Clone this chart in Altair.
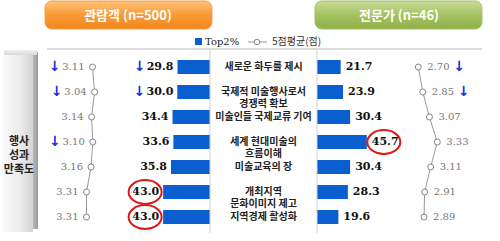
import altair as alt
import pandas as pd

categories = ["새로운 화두를 제시", "국제적 미술행사로서\n경쟁력 확보", "미술인들 국제교류 기여",
              "세계 현대미술의\n흐름이해", "미술교육의 장", "개최지역\n문화이미지 제고", "지역경제 활성화"]
visitor_avg = [3.11, 3.04, 3.14, 3.10, 3.16, 3.31, 3.31]
visitor_top2 = [29.8, 30.0, 34.4, 33.6, 35.8, 43.0, 43.0]
expert_top2 = [21.7, 23.9, 30.4, 45.7, 30.4, 28.3, 19.6]
expert_avg = [2.70, 2.85, 3.07, 3.33, 3.11, 2.91, 2.89]
visitor_avg_down = [1, 1, 0, 1, 0, 0, 0]
visitor_top2_down = [1, 1, 0, 0, 0, 0, 0]
expert_avg_down = [1, 1, 0, 0, 0, 0, 0]
visitor_top2_mark = [0, 0, 0, 0, 0, 1, 1]
expert_top2_mark = [0, 0, 0, 1, 0, 0, 0]

df = pd.DataFrame({
    "row": list(range(len(categories))),
    "cat": categories,
    "vavg": visitor_avg,
    "vtop": visitor_top2,
    "etop": expert_top2,
    "eavg": expert_avg,
    "vavg_dn": visitor_avg_down,
    "vtop_dn": visitor_top2_down,
    "eavg_dn": expert_avg_down,
    "vtop_mk": visitor_top2_mark,
    "etop_mk": expert_top2_mark,
})

KR = "Noto Sans CJK KR"
NUM = "DejaVu Serif"
BLUE = "#0B5ED0"
ARROW = "#1A2FE0"

yS = alt.Scale(domain=[0, 6], range=[62, 222], nice=False, zero=False)
lbar = alt.Scale(domain=[0, 100], range=[210, 101], nice=False)
rbar = alt.Scale(domain=[0, 100], range=[317, 426], nice=False)
lavg = alt.Scale(domain=[3.0, 3.4], range=[95.8, 83.8], nice=False, zero=False)
ravg = alt.Scale(domain=[2.7, 3.4], range=[418.3, 439.4], nice=False, zero=False)

Y = alt.Y("row:Q", scale=yS, axis=None)
base = alt.Chart(df)
one = alt.Chart(pd.DataFrame({"a": [0]}))


def grad(stops, vertical=True):
    return alt.LinearGradient(
        gradient="linear",
        stops=[alt.GradientStop(color=c, offset=o) for o, c in stops],
        x1=0, y1=0, x2=0 if vertical else 1, y2=1 if vertical else 0,
    )


# header boxes
hdr_v = one.mark_rect(cornerRadius=7, stroke="#F2A04C", strokeWidth=1,
                      color=grad([(0, "#FFC27A"), (0.5, "#FA9A35"), (1, "#F2861C")])).encode(
    x=alt.value(45), x2=alt.value(212), y=alt.value(1), y2=alt.value(29))
hdr_e = one.mark_rect(cornerRadius=7, stroke="#A3C065", strokeWidth=1,
                      color=grad([(0, "#C9DD98"), (0.5, "#A5C262"), (1, "#8FAF48")])).encode(
    x=alt.value(315), x2=alt.value(482), y=alt.value(1), y2=alt.value(29))
hdr_v_t = one.mark_text(text="관람객 (n=500)", font=KR, fontSize=13, fontWeight="bold",
                        color="white", align="center", baseline="middle").encode(
    x=alt.value(128), y=alt.value(16))
hdr_e_t = one.mark_text(text="전문가 (n=46)", font=KR, fontSize=13, fontWeight="bold",
                        color="white", align="center", baseline="middle").encode(
    x=alt.value(399), y=alt.value(16))

# legend
leg_sq = one.mark_rect(color=BLUE).encode(x=alt.value(195), x2=alt.value(202),
                                          y=alt.value(38), y2=alt.value(45))
leg_t1 = one.mark_text(text="Top2%", font=NUM, fontSize=10, color="#222", align="left",
                       baseline="middle").encode(x=alt.value(205), y=alt.value(42))
leg_ln = one.mark_rule(color="#999", strokeWidth=1).encode(
    x=alt.value(248), x2=alt.value(267), y=alt.value(42))
leg_pt = one.mark_point(shape="circle", filled=True, fill="white", stroke="#888",
                        strokeWidth=1, size=30, opacity=1).encode(x=alt.value(257), y=alt.value(42))
leg_t2 = one.mark_text(text="5점평균(점)", font=KR, fontSize=10, color="#333", align="left",
                       baseline="middle").encode(x=alt.value(272), y=alt.value(42))

# frame lines
top_line = one.mark_rule(color="#BBBBBB", strokeWidth=1).encode(
    x=alt.value(47), x2=alt.value(482), y=alt.value(49))
ax_l = one.mark_rule(color="#D0D0D0", strokeWidth=1).encode(
    x=alt.value(210), y=alt.value(50), y2=alt.value(233))
ax_r = one.mark_rule(color="#D0D0D0", strokeWidth=1).encode(
    x=alt.value(317), y=alt.value(50), y2=alt.value(233))

# left 3D box
box_front = one.mark_rect(color=grad([(0, "#FAFAFA"), (0.6, "#EBEBEB"), (1, "#D4D4D4")], vertical=False)).encode(
    x=alt.value(2), x2=alt.value(33), y=alt.value(55), y2=alt.value(232))
box_side = one.mark_rect(color=grad([(0, "#B8B8B8"), (1, "#9C9C9C")], vertical=False)).encode(
    x=alt.value(33), x2=alt.value(38), y=alt.value(52), y2=alt.value(229))
box_top = one.mark_rect(color=grad([(0, "#F0F0F0"), (1, "#DADADA")])).encode(
    x=alt.value(4), x2=alt.value(37), y=alt.value(50), y2=alt.value(55))
box_text = one.mark_text(text="행사\n성과\n만족도", lineBreak="\n", lineHeight=14, font=KR,
                         fontSize=11, fontWeight="bold", color="#222", align="center",
                         baseline="middle").encode(x=alt.value(19), y=alt.value(142))

# bars
lbars = base.mark_bar(orient="horizontal", size=14, color=BLUE).encode(
    x=alt.X("vtop:Q", scale=lbar, axis=None), x2=alt.datum(0), y=Y)
rbars = base.mark_bar(orient="horizontal", size=14, color=BLUE).encode(
    x=alt.X("etop:Q", scale=rbar, axis=None), x2=alt.datum(0), y=Y)
lbar_t = base.mark_text(align="right", baseline="middle", dx=-4, font=NUM, fontSize=11,
                        fontWeight="bold", color="#111").encode(
    x=alt.X("vtop:Q", scale=lbar, axis=None), y=Y, text=alt.Text("vtop:Q", format=".1f"))
rbar_t = base.mark_text(align="left", baseline="middle", dx=5, font=NUM, fontSize=11,
                        fontWeight="bold", color="#111").encode(
    x=alt.X("etop:Q", scale=rbar, axis=None), y=Y, text=alt.Text("etop:Q", format=".1f"))
lbar_arrow = base.transform_filter("datum.vtop_dn == 1").mark_text(
    text="↓", align="right", baseline="middle", dx=-32, font="DejaVu Sans", fontSize=14,
    fontWeight="bold", color=ARROW).encode(x=alt.X("vtop:Q", scale=lbar, axis=None), y=Y)

ell = "M-1,0A1,0.72,0,1,0,1,0A1,0.72,0,1,0,-1,0Z"
lring = base.transform_filter("datum.vtop_mk == 1").mark_point(
    shape=ell, filled=False, stroke="#E01818", strokeWidth=2, size=33 * 33, opacity=1).encode(
    x=alt.X("vtop:Q", scale=lbar, axis=None), y=Y, xOffset=alt.value(-18))
rring = base.transform_filter("datum.etop_mk == 1").mark_point(
    shape=ell, filled=False, stroke="#E01818", strokeWidth=2, size=33 * 33, opacity=1).encode(
    x=alt.X("etop:Q", scale=rbar, axis=None), y=Y, xOffset=alt.value(17))

# category labels
cat_t = base.mark_text(align="center", baseline="middle", lineBreak="\n", lineHeight=12,
                       font=KR, fontSize=10, fontWeight="bold", color="#222").encode(
    x=alt.value(263.5), y=Y, text="cat:N")

# average lines
lline = base.mark_line(color="#999", strokeWidth=1).encode(
    x=alt.X("vavg:Q", scale=lavg, axis=None), y=Y, order="row:Q")
rline = base.mark_line(color="#999", strokeWidth=1).encode(
    x=alt.X("eavg:Q", scale=ravg, axis=None), y=Y, order="row:Q")
lpts = base.mark_point(shape="circle", filled=True, fill="white", stroke="#888",
                       strokeWidth=1, size=36, opacity=1).encode(
    x=alt.X("vavg:Q", scale=lavg, axis=None), y=Y)
rpts = base.mark_point(shape="circle", filled=True, fill="white", stroke="#888",
                       strokeWidth=1, size=36, opacity=1).encode(
    x=alt.X("eavg:Q", scale=ravg, axis=None), y=Y)
lavg_t = base.mark_text(align="right", baseline="middle", dx=-8, font=NUM, fontSize=10,
                        color="#777").encode(
    x=alt.X("vavg:Q", scale=lavg, axis=None), y=Y, text=alt.Text("vavg:Q", format=".2f"))
ravg_t = base.mark_text(align="left", baseline="middle", dx=9, font=NUM, fontSize=10,
                        color="#777").encode(
    x=alt.X("eavg:Q", scale=ravg, axis=None), y=Y, text=alt.Text("eavg:Q", format=".2f"))
lavg_arrow = base.transform_filter("datum.vavg_dn == 1").mark_text(
    text="↓", align="right", baseline="middle", dx=-32, font="DejaVu Sans", fontSize=14,
    fontWeight="bold", color=ARROW).encode(x=alt.X("vavg:Q", scale=lavg, axis=None), y=Y)
ravg_arrow = base.transform_filter("datum.eavg_dn == 1").mark_text(
    text="↓", align="left", baseline="middle", dx=35, font="DejaVu Sans", fontSize=14,
    fontWeight="bold", color=ARROW).encode(x=alt.X("eavg:Q", scale=ravg, axis=None), y=Y)

chart = alt.layer(
    hdr_v, hdr_e, hdr_v_t, hdr_e_t,
    leg_sq, leg_t1, leg_ln, leg_pt, leg_t2,
    top_line, box_front, box_side, box_top, box_text,
    lbars, rbars, ax_l, ax_r, lbar_t, rbar_t, lbar_arrow, lring, rring, cat_t,
    lline, rline, lpts, rpts, lavg_t, ravg_t, lavg_arrow, ravg_arrow,
).resolve_scale(x="independent").properties(
    width=500, height=241, padding=0, autosize="none", background="white"
).configure_view(stroke=None)

chart.save("out.html", embed_options={"renderer": "svg", "actions": False})
